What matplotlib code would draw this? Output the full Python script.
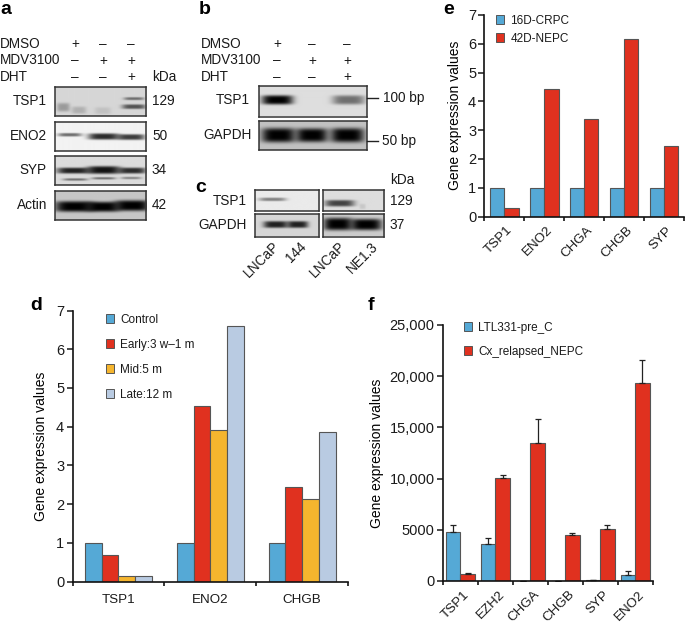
"""Gene expression figure: western blots (a-c) and bar charts (d-f)."""

import matplotlib
matplotlib.use("Agg")
import matplotlib.pyplot as plt
import numpy as np
from matplotlib.patches import Patch
from matplotlib.ticker import FuncFormatter
from matplotlib.transforms import ScaledTranslation

WIDTH = 685
HEIGHT = 624
BLUE = "#55A9D6"
RED = "#E0311F"
YELLOW = "#F5B52E"
PALE = "#B9CBE2"
EDGE = "#555555"
TEXT = "#1a1a1a"

# panel d
D_GENES = ["TSP1", "ENO2", "CHGB"]
D_CONTROL = [1.0, 1.0, 1.0]
D_EARLY = [0.68, 4.53, 2.45]
D_MID = [0.13, 3.91, 2.12]
D_LATE = [0.14, 6.6, 3.86]

# panel e
E_GENES = ["TSP1", "ENO2", "CHGA", "CHGB", "SYP"]
E_CRPC = [1.0, 1.0, 1.0, 1.0, 1.0]
E_NEPC = [0.29, 4.42, 3.4, 6.16, 2.45]

# panel f
F_GENES = ["TSP1", "EZH2", "CHGA", "CHGB", "SYP", "ENO2"]
F_PRE = [4800, 3650, 30, 30, 80, 600]
F_PRE_ERR = [700, 550, 0, 0, 30, 400]
F_RELAPSED = [700, 10100, 13500, 4450, 5050, 19300]
F_RELAPSED_ERR = [80, 250, 2350, 250, 450, 2250]

plt.rcParams["font.family"] = ["Liberation Sans", "DejaVu Sans"]
plt.rcParams["text.color"] = TEXT

fig = plt.figure(figsize=(WIDTH / 100, HEIGHT / 100), dpi=100)


def add_axes_px(left, top, right, bottom):
    """Add axes from pixel edges measured from the top left of the figure."""
    return fig.add_axes(
        [
            left / WIDTH,
            1 - bottom / HEIGHT,
            (right - left) / WIDTH,
            (bottom - top) / HEIGHT,
        ]
    )


def put_text(x, y, text, size=9.8, **kwargs):
    kwargs.setdefault("va", "center")
    fig.text(x / WIDTH, 1 - y / HEIGHT, text, fontsize=size, **kwargs)


def draw_blot(left, top, right, bottom, background, bands):
    """Draw a blot strip. Bands are (x, y, width, height, darkness) in panel fractions."""
    ax = add_axes_px(left, top, right, bottom)
    rows, cols = int((bottom - top) * 3), int((right - left) * 3)
    yy, xx = np.mgrid[0:1:rows * 1j, 0:1:cols * 1j]
    image = np.full((rows, cols), 1.0)
    for x, y, w, h, dark in bands:
        shape = np.exp(-(((xx - x) / (w / 2)) ** 4) - ((yy - y) / (h / 2)) ** 4)
        image *= 1 - dark * shape
    ax.imshow(
        background * image,
        cmap="gray",
        vmin=0,
        vmax=1,
        aspect="auto",
        interpolation="gaussian",
        extent=(0, 1, 1, 0),
    )
    ax.set_xticks([])
    ax.set_yticks([])
    for spine in ax.spines.values():
        spine.set_linewidth(1.1)
        spine.set_color("#333333")


def style_axis(ax, label_pad):
    ax.spines["top"].set_visible(False)
    ax.spines["right"].set_visible(False)
    for side in ("left", "bottom"):
        ax.spines[side].set_linewidth(1.2)
        ax.spines[side].set_color("#111111")
    ax.tick_params(axis="y", length=4, width=1.1, labelsize=10.5, pad=2, colors=TEXT)
    ax.tick_params(axis="x", which="major", length=3, width=1.1, labelbottom=False)
    ax.tick_params(axis="x", which="minor", length=0, labelsize=9.6, colors=TEXT, pad=label_pad)
    ax.set_ylabel("Gene expression values", fontsize=10, labelpad=4)


def draw_bars(ax, series, colors, width, errors=None):
    """Draw grouped bars; group n spans n to n + 1 on the x axis."""
    count = len(series[0])
    centers = np.arange(count) + 0.5
    for i, (values, color) in enumerate(zip(series, colors)):
        offset = (i - (len(series) - 1) / 2) * width
        yerr = None
        if errors is not None:
            yerr = [np.zeros(count), errors[i]]
        ax.bar(
            centers + offset,
            values,
            width,
            color=color,
            edgecolor=EDGE,
            linewidth=0.8,
            yerr=yerr,
            error_kw={"ecolor": "#222222", "elinewidth": 0.9, "capsize": 2, "capthick": 0.9},
        )
    ax.set_xlim(0, count)
    ax.set_xticks(np.arange(count + 1))
    ax.set_xticks(centers, minor=True)


def rotate_labels(ax, genes, shift_px):
    ax.set_xticklabels(genes, minor=True, rotation=45, ha="right", rotation_mode="anchor")
    shift = ScaledTranslation(shift_px / 100, 0, fig.dpi_scale_trans)
    for label in ax.get_xticklabels(minor=True):
        label.set_transform(label.get_transform() + shift)


def add_legend(ax, labels, colors, anchor, spacing):
    handles = [
        Patch(facecolor=c, edgecolor=EDGE, linewidth=0.7, label=label)
        for c, label in zip(colors, labels)
    ]
    ax.legend(
        handles=handles,
        loc="upper left",
        bbox_to_anchor=anchor,
        frameon=False,
        fontsize=8.5,
        handlelength=0.68,
        handleheight=0.78,
        handletextpad=0.55,
        labelspacing=spacing,
        borderpad=0,
        borderaxespad=0,
    )


# panel letters
for x, y, letter in [
    (0, 9, "a"),
    (199, 9, "b"),
    (195, 188, "c"),
    (30, 306, "d"),
    (443, 9, "e"),
    (368, 306, "f"),
]:
    put_text(x, y, letter, size=14, fontweight="bold", color="black")

# panel a
for y, label, signs in [
    (44, "DMSO", "+––"),
    (60.5, "MDV3100", "–++"),
    (77, "DHT", "––+"),
]:
    put_text(0, y, label)
    for x, sign in zip((75, 103, 131), signs):
        put_text(x, y, sign, ha="center")
put_text(152, 77, "kDa")

draw_blot(55, 87, 146.5, 116, 0.84, [
    (0.09, 0.70, 0.14, 0.30, 0.28),
    (0.26, 0.80, 0.16, 0.25, 0.18),
    (0.52, 0.82, 0.18, 0.25, 0.10),
    (0.86, 0.40, 0.22, 0.10, 0.50),
    (0.86, 0.68, 0.26, 0.16, 0.62),
])
draw_blot(55, 122, 146.5, 151, 0.95, [
    (0.16, 0.44, 0.26, 0.12, 0.55),
    (0.53, 0.50, 0.34, 0.22, 0.82),
    (0.83, 0.52, 0.30, 0.20, 0.75),
])
draw_blot(55, 156, 146.5, 185, 0.86, [
    (0.20, 0.52, 0.36, 0.20, 0.85),
    (0.53, 0.50, 0.36, 0.26, 0.92),
    (0.84, 0.52, 0.30, 0.20, 0.80),
    (0.22, 0.82, 0.27, 0.08, 0.50),
    (0.53, 0.78, 0.26, 0.08, 0.50),
    (0.83, 0.77, 0.22, 0.08, 0.40),
])
draw_blot(55, 191, 146.5, 220, 0.78, [
    (0.21, 0.55, 0.42, 0.36, 1.0),
    (0.52, 0.56, 0.36, 0.34, 1.0),
    (0.84, 0.52, 0.38, 0.36, 1.0),
])
for y, label, size_kda in [
    (101, "TSP1", "129"),
    (136, "ENO2", "50"),
    (170, "SYP", "34"),
    (205, "Actin", "42"),
]:
    put_text(47, y, label, ha="right")
    put_text(152, y, size_kda)

# panel b
for y, label, signs in [
    (44, "DMSO", "+––"),
    (60.5, "MDV3100", "–++"),
    (77, "DHT", "––+"),
]:
    put_text(201, y, label)
    for x, sign in zip((277, 312, 347), signs):
        put_text(x, y, sign, ha="center")

draw_blot(258.5, 86, 366.5, 116.5, 0.87, [
    (0.17, 0.48, 0.29, 0.30, 1.0),
    (0.83, 0.48, 0.30, 0.30, 0.50),
])
draw_blot(258.5, 121, 366.5, 150, 0.76, [
    (0.18, 0.49, 0.31, 0.50, 1.0),
    (0.49, 0.49, 0.29, 0.48, 1.0),
    (0.82, 0.49, 0.31, 0.50, 1.0),
])
put_text(250, 100, "TSP1", ha="right")
put_text(252, 135, "GAPDH", ha="right")
put_text(383, 98, "100 bp")
put_text(382, 141, "50 bp")
for y in (98, 141):
    fig.add_artist(
        plt.Line2D(
            [366.5 / WIDTH, 378 / WIDTH],
            [1 - y / HEIGHT, 1 - y / HEIGHT],
            color="#222222",
            linewidth=1.0,
        )
    )

# panel c
draw_blot(254.5, 189.5, 319, 211, 0.92, [(0.27, 0.47, 0.42, 0.16, 0.45)])
draw_blot(322.5, 189.5, 384, 211, 0.87, [
    (0.27, 0.65, 0.48, 0.30, 0.70),
    (0.64, 0.80, 0.10, 0.25, 0.10),
])
draw_blot(254.5, 214, 319, 236.5, 0.84, [
    (0.32, 0.50, 0.38, 0.30, 0.85),
    (0.66, 0.50, 0.32, 0.30, 0.85),
])
draw_blot(322.5, 214, 384, 236.5, 0.80, [
    (0.24, 0.48, 0.46, 0.55, 1.0),
    (0.70, 0.50, 0.50, 0.50, 1.0),
])
put_text(247, 201, "TSP1", ha="right")
put_text(247, 225, "GAPDH", ha="right")
put_text(390, 180, "kDa")
put_text(390, 201, "129")
put_text(390, 225, "37")
for x, label in [(272, "LNCaP"), (299, "144"), (338, "LNCaP"), (371, "NE1.3")]:
    put_text(x, 239, label, rotation=45, ha="right", va="top", rotation_mode="anchor")

# panel d
ax_d = add_axes_px(72.5, 310.5, 348, 581.5)
draw_bars(ax_d, [D_CONTROL, D_EARLY, D_MID, D_LATE], [BLUE, RED, YELLOW, PALE], 0.182)
ax_d.set_ylim(0, 7)
ax_d.set_yticks(range(8))
style_axis(ax_d, 9)
ax_d.yaxis.labelpad = 6
ax_d.set_xticklabels(D_GENES, minor=True)
add_legend(
    ax_d,
    ["Control", "Early:3 w–1 m", "Mid:5 m", "Late:12 m"],
    [BLUE, RED, YELLOW, PALE],
    (0.12, 0.987),
    1.1,
)

# panel e
ax_e = add_axes_px(484.5, 15, 684, 216.5)
draw_bars(ax_e, [E_CRPC, E_NEPC], [BLUE, RED], 0.355)
ax_e.set_ylim(0, 7)
ax_e.set_yticks(range(8))
style_axis(ax_e, 5.5)
rotate_labels(ax_e, E_GENES, 2)
add_legend(ax_e, ["16D-CRPC", "42D-NEPC"], [BLUE, RED], (0.056, 1.0), 0.5)

# panel f
ax_f = add_axes_px(443, 325, 652.5, 581)
draw_bars(
    ax_f,
    [F_PRE, F_RELAPSED],
    [BLUE, RED],
    0.415,
    errors=[F_PRE_ERR, F_RELAPSED_ERR],
)
ax_f.set_ylim(0, 25000)
ax_f.set_yticks([0, 5000, 10000, 15000, 20000, 25000])
ax_f.yaxis.set_major_formatter(
    FuncFormatter(lambda v, _: f"{v:,.0f}" if v > 5000 else f"{v:.0f}")
)
style_axis(ax_f, 5.5)
rotate_labels(ax_f, F_GENES, 3)
add_legend(ax_f, ["LTL331-pre_C", "Cx_relapsed_NEPC"], [BLUE, RED], (0.10, 1.012), 1.02)

fig.savefig("out.png", dpi=100)
